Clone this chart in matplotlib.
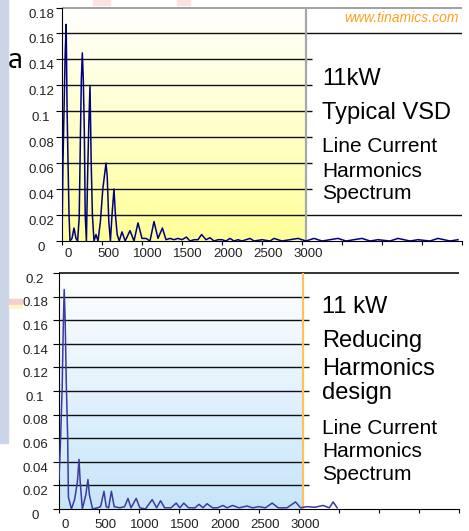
import numpy as np
import matplotlib
matplotlib.use('Agg')
import matplotlib.pyplot as plt
import matplotlib.transforms as mtrans
from matplotlib.patches import Rectangle

plt.rcParams['font.family'] = ['Liberation Sans', 'DejaVu Sans']

# --- top panel: typical VSD, line current spectrum (Hz, p.u.)
freq_top = [0, 12, 25, 40, 52, 64, 76, 88, 100, 125, 150, 175, 195, 215, 230,
            242, 254, 266, 279, 290, 305, 320, 335, 350, 365, 380, 400, 425,
            450, 480, 510, 530, 550, 565, 585, 605, 625, 650, 668, 690, 715,
            750, 790, 850, 900, 950, 1000, 1050, 1100, 1150, 1200, 1255, 1300,
            1350, 1400, 1450, 1500, 1555, 1600, 1650, 1700, 1745, 1800, 1850,
            1900, 1950, 2000, 2050, 2100, 2150, 2200, 2250, 2350, 2400, 2500,
            2600, 2650, 2750, 2850, 2950, 3050, 3150, 3250, 3350, 3450, 3550,
            3650, 3750, 3850, 3950, 4100, 4200, 4350, 4450, 4600, 4700, 4850,
            4950]
amp_top = [0.0, 0.06, 0.10, 0.145, 0.167, 0.10, 0.058, 0.02, 0.0, 0.002, 0.01,
           0.002, 0.0, 0.018, 0.08, 0.125, 0.145, 0.125, 0.085, 0.02, 0.0,
           0.05, 0.09, 0.12, 0.06, 0.02, 0.0, 0.005, 0.0, 0.015, 0.04, 0.05,
           0.06, 0.05, 0.015, 0.0, 0.02, 0.04, 0.02, 0.005, 0.0, 0.007, 0.0,
           0.008, 0.0, 0.014, 0.002, 0.002, 0.0, 0.015, 0.002, 0.01, 0.001,
           0.002, 0.001, 0.002, 0.001, 0.003, 0.0, 0.001, 0.001, 0.005, 0.001,
           0.0025, 0.0, 0.001, 0.001, 0.0, 0.002, 0.0, 0.001, 0.0, 0.002, 0.0,
           0.001, 0.0, 0.002, 0.0, 0.001, 0.002, 0.0, 0.002, 0.0, 0.001, 0.002,
           0.0, 0.001, 0.002, 0.0, 0.001, 0.0, 0.002, 0.0, 0.001, 0.0, 0.002,
           0.0, 0.001]

# --- bottom panel: reducing harmonics design
freq_bot = [0, 20, 40, 55, 65, 77, 92, 108, 118, 155, 195, 230, 250, 265, 292,
            335, 362, 380, 420, 480, 520, 562, 590, 620, 655, 690, 760, 820,
            862, 900, 965, 1010, 1080, 1165, 1220, 1270, 1320, 1400, 1465, 1510,
            1560, 1620, 1700, 1750, 1800, 1850, 1920, 1980, 2050, 2100, 2170,
            2250, 2350, 2420, 2500, 2580, 2665, 2740, 2850, 2956, 3020, 3100,
            3200, 3300, 3380, 3427, 3477]
amp_bot = [0.025, 0.06, 0.104, 0.16, 0.186, 0.16, 0.104, 0.062, 0.01, 0.0,
           0.008, 0.023, 0.042, 0.023, 0.0, 0.012, 0.025, 0.012, 0.0, 0.001,
           0.002, 0.015, 0.002, 0.001, 0.015, 0.002, 0.001, 0.002, 0.009,
           0.001, 0.009, 0.001, 0.0, 0.008, 0.001, 0.007, 0.001, 0.001, 0.005,
           0.001, 0.005, 0.001, 0.001, 0.004, 0.001, 0.0045, 0.001, 0.001,
           0.003, 0.001, 0.003, 0.001, 0.0025, 0.001, 0.002, 0.001, 0.005,
           0.001, 0.001, 0.006, 0.001, 0.002, 0.0015, 0.003, 0.001, 0.006,
           0.001]

yticks_top = [0, 0.02, 0.04, 0.06, 0.08, 0.1, 0.12, 0.14, 0.16, 0.18]
ylabels_top = ['0', '0.02', '0.04', '0.06', '0.08', '0.1', '0.12', '0.14',
               '0.16', '0.18']
yticks_bot = [0, 0.02, 0.04, 0.06, 0.08, 0.1, 0.12, 0.14, 0.16, 0.18, 0.2]
ylabels_bot = ['0', '0.02', '0.04', '0.06', '0.08', '0.1', '0.12', '0.14',
               '0.16', '0.18', '0.2']
xticks = [0, 500, 1000, 1500, 2000, 2500, 3000]
xlabels = ['0', '500', '1000', '1500', '2000', '2500', '3000']

notes_top = [('11kW', 17), ('Typical VSD', 17), ('Line Current', 15),
             ('Harmonics', 15), ('Spectrum', 15)]
notes_bot = [('11 kW', 17), ('Reducing', 17), ('Harmonics', 17),
             ('design', 17), ('Line Current', 15), ('Harmonics', 15),
             ('Spectrum', 15)]

W, H = 469, 531
XMAX = 5000
CUT = 3045      # edge of the shaded plot area
STUB = 3125     # where the short gridlines stop

fig = plt.figure(figsize=(W / 100, H / 100), dpi=100)


def box(l, t, r, b):
    return [l / W, 1 - b / H, (r - l) / W, (b - t) / H]


def px_off(dx, dy):
    # offset in pixels (dy positive = down)
    return mtrans.ScaledTranslation(dx / 100, -dy / 100, fig.dpi_scale_trans)


def panel(ax, f, a, ymax, yt, yl, c_bot, cut_col, top_col, full, lcol,
          ylab_dx, ylab_dy, xlab_dy):
    grad = np.linspace(0, 1, 256)[:, None, None]
    img = np.array([1, 1, 1]) * (1 - grad) + np.array(c_bot) * grad
    ax.imshow(img, extent=[0, CUT, 0, ymax], aspect='auto', origin='upper',
              zorder=0, interpolation='bilinear')
    for v in yt[1:-1]:
        end = XMAX if v in full else STUB
        ax.hlines(v, 0, end, color='#101010', lw=1.0, zorder=1)
    ax.hlines(ymax, 0, XMAX, color=top_col, lw=1.2, zorder=1, clip_on=False)
    ax.vlines(CUT, 0, ymax, color=cut_col, lw=1.6, zorder=2)
    ax.plot(f, a, color=lcol, lw=1.1, zorder=3)
    ax.set_xlim(0, XMAX)
    ax.set_ylim(0, ymax)
    for s in ['top', 'right']:
        ax.spines[s].set_visible(False)
    ax.spines['left'].set_color('black')
    ax.spines['bottom'].set_color('black')
    ax.set_yticks(yt)
    ax.set_xticks(list(range(0, XMAX + 1, 500)))
    ax.tick_params(axis='y', length=4, labelleft=False)
    ax.tick_params(axis='x', length=3, labelbottom=False)
    tr_y = ax.get_yaxis_transform() + px_off(-ylab_dx, ylab_dy)
    for v, s in zip(yt, yl):
        ax.text(0, v, s, transform=tr_y, ha='center', va='baseline',
                fontsize=9.5, color='#222222')
    tr_x = ax.get_xaxis_transform() + px_off(6, xlab_dy)
    for v, s in zip(xticks, xlabels):
        ax.text(v, 0, s, transform=tr_x, ha='center', va='baseline',
                fontsize=9.5, color='#222222')


ax1 = fig.add_axes(box(62, 7.5, 462, 241))
panel(ax1, freq_top, amp_top, 0.18, yticks_top, ylabels_top,
      [1.0, 1.0, 0.60], '#a8a8a8', '#909090', [0.02, 0.16], '#000080',
      21, 10, 15.5)

ax2 = fig.add_axes(box(59, 273, 459, 509))
panel(ax2, freq_bot, amp_bot, 0.2, yticks_bot, ylabels_bot,
      [0.78, 0.90, 0.98], '#ffc060', '#101010', [], '#3a3aa0',
      24, 9.7, 18.5)

# right-hand captions
base_top = [85, 119, 152, 177, 199]
for (s, fs), y in zip(notes_top, base_top):
    fig.text(322 / W, 1 - y / H, s, fontsize=fs, va='baseline', ha='left')
base_bot = [313, 347, 375, 399, 434, 457, 480.5]
for (s, fs), y in zip(notes_bot, base_bot):
    fig.text(322 / W, 1 - y / H, s, fontsize=fs, va='baseline', ha='left')

fig.text(459 / W, 1 - 21.5 / H, 'www.tinamics.com', fontsize=10,
         style='italic', color='#ffa020', ha='right', va='baseline')

# slide remnants around the charts
fig.patches.append(Rectangle((0, 1 - 443 / H), 8 / W, 443 / H,
                             transform=fig.transFigure, color='#cbd5e8'))
for x0, x1 in [(93, 110), (177, 190)]:
    fig.patches.append(Rectangle((x0 / W, 1 - 5 / H), (x1 - x0) / W, 5 / H,
                                 transform=fig.transFigure, color='#fde2e2'))
fig.patches.append(Rectangle((9 / W, 1 - 305 / H), 13 / W, 6 / H,
                             transform=fig.transFigure, color='#f8cdd0'))
fig.patches.append(Rectangle((9 / W, 1 - 308 / H), 13 / W, 3 / H,
                             transform=fig.transFigure, color='#fff6c8'))
fig.text(15 / W, 1 - 68 / H, 'ล', fontsize=19, fontweight='bold',
         family=['Noto Sans Thai', 'Noto Sans', 'DejaVu Sans'],
         ha='center', va='baseline')

fig.savefig('out.png', dpi=100)
